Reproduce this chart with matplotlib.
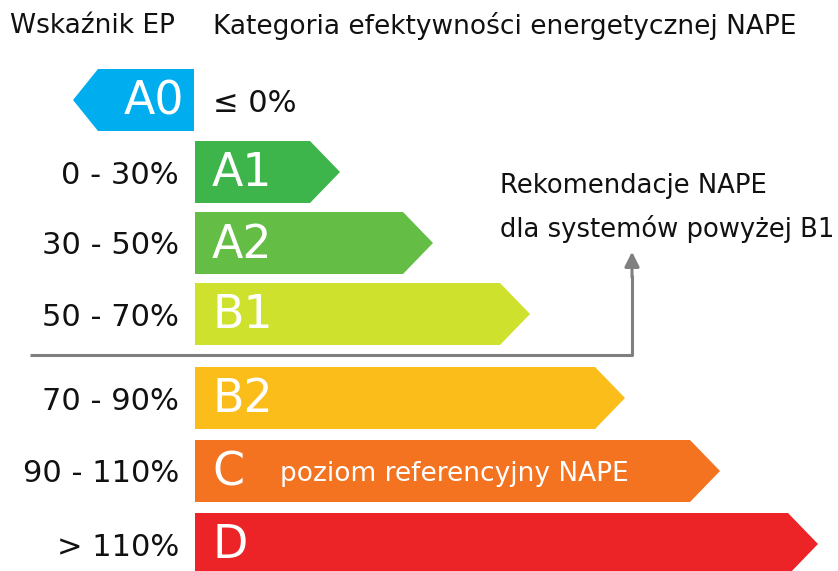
import matplotlib.pyplot as plt
from matplotlib.patches import Polygon

# energy classes (A0 points left, the rest point right)
classes = ["A0", "A1", "A2", "B1", "B2", "C", "D"]
ep_ranges = ["≤ 0%", "0 - 30%", "30 - 50%", "50 - 70%", "70 - 90%", "90 - 110%", "> 110%"]
bar_len = [121, 145, 238, 335, 430, 525, 623]
colors = ["#00AEEF", "#3DB54A", "#64BE46", "#CEE12C", "#FBBD19", "#F37321", "#EC2428"]
row_y = [100, 172, 243, 314, 398, 471, 544]

W, H = 838, 571
fig = plt.figure(figsize=(W / 100, H / 100), dpi=100)
ax = fig.add_axes([0, 0, 1, 1])
ax.set_xlim(0, W)
ax.set_ylim(H, 0)
ax.axis("off")

x0 = 195
half = 31
tip = 30
font = ["DejaVu Sans"]

for i, (c, r, L, col, y) in enumerate(zip(classes, ep_ranges, bar_len, colors, row_y)):
    if i == 0:
        right = x0 - 1
        left = right - L
        pts = [(right, y - half), (left + 25, y - half), (left, y), (left + 25, y + half), (right, y + half)]
        ax.add_patch(Polygon(pts, closed=True, color=col, lw=0))
        ax.text(right - 10, y + 2, c, color="white", fontsize=33, ha="right", va="center", family=font)
        ax.text(x0 + 18, y + 3, r, color="#111111", fontsize=22, ha="left", va="center", family=font)
    else:
        end = x0 + L
        pts = [(x0, y - half), (end - tip, y - half), (end, y), (end - tip, y + half), (x0, y + half)]
        ax.add_patch(Polygon(pts, closed=True, color=col, lw=0))
        ax.text(x0 + 17, y + 2, c, color="white", fontsize=33, ha="left", va="center", family=font)
        ax.text(179, y + 3, r, color="#111111", fontsize=22, ha="right", va="center", family=font)

ax.text(280, 474, "poziom referencyjny NAPE", color="white", fontsize=19, ha="left", va="center", family=font)

# headers
ax.text(10, 26, "Wskaźnik EP", color="#111111", fontsize=19, ha="left", va="center", family=font)
ax.text(213, 26, "Kategoria efektywności energetycznej NAPE", color="#111111", fontsize=19,
        ha="left", va="center", family=font)

# recommendation line and arrow
ax.plot([30, 632, 632], [355, 355, 275], color="#7F7F7F", lw=2.2, solid_capstyle="butt")
ax.annotate("", xy=(632, 249), xytext=(632, 280),
            arrowprops=dict(arrowstyle="-|>", color="#7F7F7F", lw=2.2, mutation_scale=22))
ax.text(500, 186, "Rekomendacje NAPE", color="#111111", fontsize=18.6, ha="left", va="center", family=font)
ax.text(500, 229, "dla systemów powyżej B1", color="#111111", fontsize=18.6, ha="left", va="center", family=font)

fig.savefig("out.png", dpi=100)
